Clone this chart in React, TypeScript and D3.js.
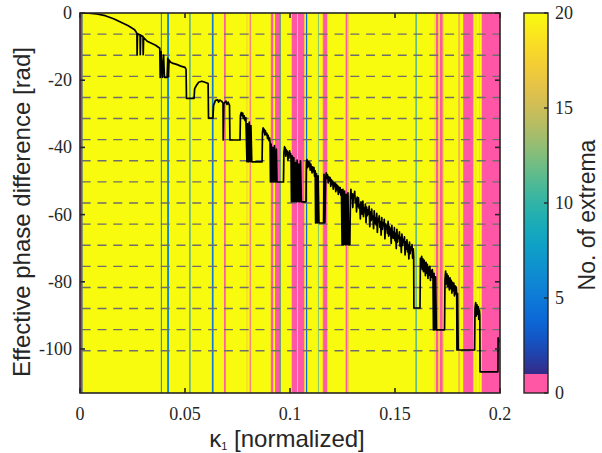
import React from "react";
import * as d3 from "d3";

// ---------- data ----------
const X_TICKS = [0, 0.05, 0.1, 0.15, 0.2];
const X_TICK_LABELS = ["0", "0.05", "0.1", "0.15", "0.2"];
const Y_TICKS = [0, -20, -40, -60, -80, -100];
const Y_TICK_LABELS = ["0", "-20", "-40", "-60", "-80", "-100"];
const CB_TICKS = [0, 5, 10, 15, 20];
const CB_TICK_LABELS = ["0", "5", "10", "15", "20"];
const Y_MIN = -113.097;
// reference lines at multiples of -2π
const WRAP_LEVELS = [
  -6.283, -12.566, -18.850, -25.133, -31.416, -37.699, -43.982, -50.265,
  -56.549, -62.832, -69.115, -75.398, -81.681, -87.965, -94.248, -100.531,
];

// number of extrema per κ1 interval: [k0, k1, count]; background = 20
const BACKGROUND_COUNT = 20;
const STRIPES: [number, number, number][] = [
  [0.0, 0.0006, 0], [0.0006, 0.0012, 2],
  [0.0385, 0.039, 6], [0.0415, 0.0424, 6], [0.0521, 0.0526, 6],
  [0.0628, 0.0636, 5], [0.0686, 0.0694, 0],
  [0.0793, 0.0797, 17], [0.0808, 0.0813, 0],
  [0.0905, 0.0908, 17], [0.091, 0.092, 0], [0.0929, 0.0949, 0], [0.095, 0.0955, 3],
  [0.1006, 0.1009, 17], [0.1009, 0.1035, 0], [0.1035, 0.1038, 18], [0.1038, 0.1068, 0],
  [0.1069, 0.1072, 17], [0.1076, 0.1082, 4],
  [0.1133, 0.1137, 12],
  [0.1154, 0.1157, 17], [0.1158, 0.1176, 0], [0.1178, 0.1181, 17],
  [0.1265, 0.1273, 0], [0.1276, 0.128, 17],
  [0.1598, 0.1603, 7],
  [0.1688, 0.1692, 17], [0.1695, 0.1706, 0], [0.1709, 0.1712, 17], [0.1714, 0.1727, 0], [0.1729, 0.1732, 17],
  [0.18, 0.1804, 17], [0.1804, 0.1807, 0],
  [0.1825, 0.1873, 0],
  [0.1884, 0.1887, 17], [0.19, 0.1903, 17],
  [0.1913, 0.2, 0],
];

// effective phase difference vs κ1
const PHASE: [number, number][] = [
  [0, 0], [0.004, -0.05], [0.008, -0.3], [0.012, -0.8], [0.016, -1.7], [0.02, -2.9], [0.023, -3.8], [0.026, -5.0], [0.0271, -6.0],
  [0.0272, -12.4], [0.0274, -6.2], [0.0286, -6.5], [0.0287, -12.4], [0.0289, -6.6], [0.03, -7.0], [0.0301, -12.4], [0.0303, -7.3],
  [0.032, -8.4], [0.034, -9.0], [0.036, -9.6], [0.038, -10.5],
  [0.0382, -19.2], [0.0386, -11.5], [0.0392, -19.2], [0.0398, -12.5], [0.0402, -19.2], [0.0415, -19.2], [0.0418, -13.5], [0.0421, -19.0], [0.0424, -14.0],
  [0.043, -14.6], [0.0443, -15.0], [0.046, -15.3], [0.048, -15.8], [0.05, -16.2], [0.0505, -16.8],
  [0.0507, -25.4], [0.0543, -25.4], [0.0546, -22.5], [0.0555, -21.5], [0.0565, -20.6], [0.058, -20.3], [0.0595, -20.6], [0.061, -21.0],
  [0.0612, -31.3], [0.0633, -31.3], [0.0636, -27.5], [0.0645, -26.0], [0.0655, -25.8], [0.066, -26.5], [0.0665, -25.9], [0.0675, -26.3], [0.0681, -26.8],
  [0.0682, -37.8], [0.0685, -27.0], [0.0695, -26.2], [0.07, -27.2], [0.0705, -26.5], [0.0712, -27.5], [0.0714, -37.8], [0.0762, -37.8], [0.0764, -30.5],
  [0.0768, -29.6], [0.0772, -30.6], [0.0775, -29.8], [0.0778, -31.4], [0.0782, -30.6], [0.0786, -32.0], [0.079, -31.2],
  [0.0795, -44.3], [0.0798, -33.0], [0.0802, -44.3], [0.0806, -32.5], [0.081, -44.3], [0.0814, -33.5], [0.0818, -44.3], [0.0867, -44.3], [0.0869, -35.5],
  [0.0872, -34.2], [0.0875, -35.4], [0.0878, -34.6], [0.088, -36.3], [0.0883, -35.1], [0.0886, -36.2], [0.089, -35.8], [0.0893, -37.4], [0.0896, -36.4], [0.09, -38.0], [0.0903, -37.2], [0.0905, -38.5],
  [0.0907, -50.3], [0.091, -39.0], [0.0914, -50.3], [0.0918, -40.0], [0.0922, -50.3], [0.0926, -39.5], [0.093, -50.3], [0.0935, -40.5], [0.0938, -50.3], [0.0969, -50.3], [0.0971, -41.5],
  [0.0974, -39.8], [0.0976, -41.6], [0.0978, -40.2], [0.098, -42.6], [0.0983, -40.8], [0.0985, -42.0], [0.0988, -41.2], [0.099, -43.8], [0.0993, -41.6], [0.0995, -43.2], [0.0998, -41.0], [0.1, -42.4], [0.1003, -41.8], [0.1005, -43.5],
  [0.1007, -56.2], [0.101, -42.5], [0.1014, -56.2], [0.1018, -43.0], [0.1022, -56.2], [0.1026, -44.5], [0.103, -56.2], [0.1034, -43.8], [0.1038, -56.2], [0.1042, -45.0], [0.1046, -56.2], [0.105, -44.0], [0.1054, -56.2], [0.1076, -56.2], [0.1078, -44.5],
  [0.1081, -43.6], [0.1084, -46.0], [0.1087, -44.2], [0.109, -45.6], [0.1093, -44.4], [0.1096, -46.8], [0.1099, -45.0], [0.1102, -46.2], [0.1105, -47.6], [0.1108, -45.8], [0.1111, -47.2], [0.1114, -46.0], [0.1117, -48.6], [0.112, -47.0],
  [0.1122, -62.5], [0.1126, -47.8], [0.113, -62.5], [0.1134, -48.5], [0.1138, -62.5], [0.116, -62.5], [0.1162, -48.0], [0.1166, -62.5], [0.117, -49.0],
  [0.1173, -47.6], [0.1176, -49.2], [0.1179, -48.2], [0.1182, -50.6], [0.1185, -48.8], [0.1188, -50.0], [0.1191, -49.0], [0.1194, -51.6], [0.1197, -49.6], [0.12, -51.0],
  [0.1203, -50.0], [0.1206, -52.4], [0.1209, -50.4], [0.1212, -51.6], [0.1215, -50.6], [0.1218, -53.2], [0.1221, -51.0], [0.1224, -52.6], [0.1227, -51.4], [0.123, -54.0],
  [0.1233, -51.8], [0.1236, -53.4], [0.1239, -52.0], [0.1242, -54.2], [0.1245, -52.6],
  [0.1248, -69.0], [0.1252, -52.5], [0.1256, -69.0], [0.126, -53.0], [0.1264, -69.0], [0.1268, -54.0], [0.1272, -69.0], [0.1276, -53.5], [0.128, -69.0], [0.1285, -69.0], [0.1288, -54.5],
  [0.129, -52.5], [0.1293, -55.2], [0.1296, -53.8], [0.1299, -57.9], [0.1302, -54.0], [0.1305, -54.6], [0.1308, -53.1], [0.1311, -56.4], [0.1314, -55.3], [0.1317, -59.2],
  [0.132, -54.8], [0.1323, -57.6], [0.1326, -55.0], [0.1329, -58.1], [0.1332, -57.0], [0.1335, -61.3], [0.1338, -56.2], [0.1341, -57.4], [0.1344, -59.9], [0.1347, -56.0],
  [0.135, -60.6], [0.1353, -58.1], [0.1356, -59.2], [0.1359, -56.9], [0.1362, -62.4], [0.1365, -57.8], [0.1368, -60.3], [0.1371, -58.6], [0.1374, -59.9], [0.1377, -57.5],
  [0.138, -63.6], [0.1383, -59.2], [0.1386, -61.8], [0.1389, -58.4], [0.1392, -61.4], [0.1395, -60.6], [0.1398, -64.2], [0.1401, -58.9], [0.1404, -62.6], [0.1407, -61.0],
  [0.141, -63.1], [0.1413, -59.6], [0.1416, -65.3], [0.1419, -61.2], [0.1422, -61.9], [0.1425, -60.4], [0.1428, -63.8], [0.1431, -62.2], [0.1434, -66.1], [0.1437, -60.9],
  [0.144, -64.4], [0.1443, -62.5], [0.1446, -63.2], [0.1449, -61.4], [0.1452, -67.2], [0.1455, -62.8], [0.1458, -64.0], [0.1461, -63.3], [0.1464, -65.6], [0.1467, -62.0],
  [0.147, -66.4], [0.1473, -63.5], [0.1476, -65.9], [0.1479, -64.1], [0.1482, -68.6], [0.1485, -63.2], [0.1488, -66.9], [0.1491, -65.2], [0.1494, -67.1], [0.1497, -63.9],
  [0.15, -67.8], [0.1503, -65.6], [0.1506, -70.1], [0.1509, -64.4], [0.1512, -68.2], [0.1515, -66.3], [0.1518, -67.0], [0.1521, -65.1], [0.1524, -69.4], [0.1527, -66.8],
  [0.153, -71.3], [0.1533, -65.8], [0.1536, -69.2], [0.1539, -67.4], [0.1542, -68.3], [0.1545, -66.6], [0.1548, -72.0], [0.1551, -68.1], [0.1554, -70.3], [0.1557, -67.5],
  [0.156, -71.1], [0.1563, -69.0], [0.1566, -73.2], [0.1569, -68.2], [0.1572, -71.6], [0.1575, -69.6], [0.1578, -70.4], [0.1581, -68.9], [0.1584, -73.0], [0.1587, -70.2], [0.1589, -72.5],
  [0.159, -87.8], [0.1619, -87.8], [0.1621, -73.0],
  [0.1624, -75.8], [0.1627, -72.4], [0.163, -76.4], [0.1633, -73.2], [0.1636, -77.0], [0.1639, -73.6], [0.1642, -75.6], [0.1645, -78.2], [0.1648, -74.2], [0.1651, -77.4],
  [0.1654, -74.8], [0.1657, -79.0], [0.166, -75.6], [0.1663, -78.0], [0.1666, -75.4], [0.1669, -79.6], [0.1672, -76.6], [0.1675, -78.6], [0.1678, -76.4], [0.1681, -79.2],
  [0.1683, -94.3], [0.1686, -77.5], [0.169, -94.3], [0.1693, -78.5], [0.1697, -94.3], [0.1736, -94.3], [0.1738, -79.5],
  [0.1741, -76.8], [0.1744, -80.6], [0.1747, -77.6], [0.175, -81.4], [0.1753, -78.2], [0.1756, -80.2], [0.1759, -82.4], [0.1762, -78.8], [0.1765, -82.0], [0.1768, -79.6],
  [0.1771, -83.4], [0.1774, -80.2], [0.1777, -82.6], [0.178, -80.4], [0.1783, -84.2], [0.1786, -81.2], [0.1789, -83.6], [0.1792, -81.6], [0.1794, -84.4],
  [0.1795, -100.3], [0.1798, -83.5], [0.1801, -100.3], [0.1879, -100.3], [0.1881, -88.0],
  [0.1884, -86.2], [0.1887, -90.2], [0.189, -86.8], [0.1893, -89.6], [0.1896, -87.4], [0.1899, -91.2], [0.1902, -88.4], [0.1904, -90.0],
  [0.1905, -106.8], [0.199, -106.8], [0.1991, -96.7], [0.1995, -97.5], [0.2, -98.0],
];

const PARULA = ["#352a87", "#0363e1", "#1485d4", "#06a7c6", "#38b99e", "#92bf73", "#d9ba56", "#fcce2e", "#f9fb0e"];
const ZERO_COLOR = "#ff56a6";

// ---------- layout ----------
const PX0 = 80, PX1 = 500, PY0 = 13, PY1 = 393;
const CBX0 = 524, CBX1 = 548;
const AX = "#262626";

export default function App() {
  const x = d3.scaleLinear().domain([0, 0.2]).range([PX0, PX1]);
  const y = d3.scaleLinear().domain([Y_MIN, 0]).range([PY1, PY0]);
  const cb = d3.scaleLinear().domain([0, 20]).range([PY1, PY0]);
  const parula = d3.interpolateRgbBasis(PARULA);
  const color = (c: number) => (c < 1 ? ZERO_COLOR : parula((c - 1) / 19));
  const line = d3.line<[number, number]>().x((d) => x(d[0])).y((d) => y(d[1]));
  const gradStops = d3.range(0, 1.0001, 0.05);

  const serif = "'Liberation Serif', 'Times New Roman', serif";
  const sans = "'Liberation Sans', Arial, sans-serif";

  return (
    <svg width={602} height={453} style={{ display: "block", position: "absolute", left: 0, top: 0 }}>
      <defs>
        <linearGradient id="parula" x1="0" y1="1" x2="0" y2="0">
          {gradStops.map((t) => (
            <stop key={t} offset={t} stopColor={parula(t)} />
          ))}
        </linearGradient>
        <clipPath id="plotclip">
          <rect x={PX0} y={PY0} width={PX1 - PX0} height={PY1 - PY0} />
        </clipPath>
      </defs>
      <rect x={0} y={0} width={602} height={453} fill="#fff" />
      {/* background heatmap */}
      <rect x={PX0} y={PY0} width={PX1 - PX0} height={PY1 - PY0} fill={color(BACKGROUND_COUNT)} />
      {STRIPES.map(([k0, k1, c], i) => (
        <rect key={i} x={x(k0)} y={PY0} width={x(k1) - x(k0)} height={PY1 - PY0} fill={color(c)} />
      ))}
      {/* 2π reference lines */}
      {WRAP_LEVELS.map((v, i) => (
        <line key={i} x1={PX0 + 1.7} x2={PX1} y1={y(v)} y2={y(v)} stroke="#6e6e6e" strokeWidth={1.4} strokeDasharray="9 6.8" />
      ))}
      {/* curve */}
      <g clipPath="url(#plotclip)">
        <path d={line(PHASE) || ""} fill="none" stroke="#000" strokeWidth={1.7} strokeLinejoin="round" />
      </g>
      {/* axes box */}
      <rect x={PX0} y={PY0} width={PX1 - PX0} height={PY1 - PY0} fill="none" stroke={AX} strokeWidth={1.6} />
      {X_TICKS.map((t, i) => (
        <g key={i}>
          <line x1={x(t)} x2={x(t)} y1={PY1} y2={PY1 - 5} stroke={AX} strokeWidth={1.6} />
          <line x1={x(t)} x2={x(t)} y1={PY0} y2={PY0 + 5} stroke={AX} strokeWidth={1.6} />
          <text x={x(t)} y={420} textAnchor="middle" fontFamily={serif} fontSize={18} fill={AX}>
            {X_TICK_LABELS[i]}
          </text>
        </g>
      ))}
      {Y_TICKS.map((t, i) => (
        <g key={i}>
          <line x1={PX0} x2={PX0 + 5} y1={y(t)} y2={y(t)} stroke={AX} strokeWidth={1.6} />
          <line x1={PX1} x2={PX1 - 5} y1={y(t)} y2={y(t)} stroke={AX} strokeWidth={1.6} />
          <text x={72} y={y(t) + 6} textAnchor="end" fontFamily={serif} fontSize={18} fill={AX}>
            {Y_TICK_LABELS[i]}
          </text>
        </g>
      ))}
      <text x={287} y={447} textAnchor="middle" fontFamily={sans} fontSize={24} fill={AX}>
        κ<tspan fontSize={11} dy={3}>1</tspan>
        <tspan dy={-3}> [normalized]</tspan>
      </text>
      <text transform="translate(30,212) rotate(-90)" textAnchor="middle" fontFamily={sans} fontSize={24} fill={AX}>
        Effective phase difference [rad]
      </text>
      {/* colorbar */}
      <rect x={CBX0} y={cb(20)} width={CBX1 - CBX0} height={cb(1) - cb(20)} fill="url(#parula)" />
      <rect x={CBX0} y={cb(1)} width={CBX1 - CBX0} height={cb(0) - cb(1)} fill={ZERO_COLOR} />
      <rect x={CBX0} y={cb(20)} width={CBX1 - CBX0} height={cb(0) - cb(20)} fill="none" stroke={AX} strokeWidth={1.4} />
      {CB_TICKS.map((t, i) => (
        <g key={i}>
          <line x1={CBX1} x2={CBX1 - 4} y1={cb(t)} y2={cb(t)} stroke={AX} strokeWidth={1.4} />
          <text x={555} y={cb(t) + 6} fontFamily={serif} fontSize={18} fill={AX}>
            {CB_TICK_LABELS[i]}
          </text>
        </g>
      ))}
      <text transform="translate(595,215) rotate(-90)" textAnchor="middle" fontFamily={sans} fontSize={23} fill={AX}>
        No. of extrema
      </text>
    </svg>
  );
}
